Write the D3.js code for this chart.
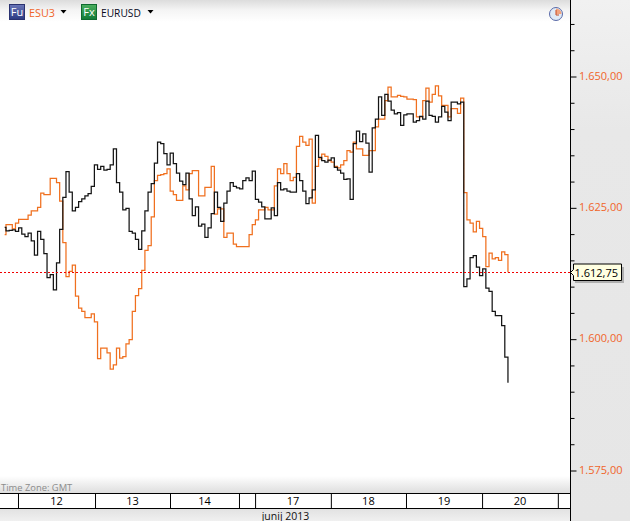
<!DOCTYPE html>
<html><head><meta charset="utf-8">
<script src="https://cdn.jsdelivr.net/npm/d3@7/dist/d3.min.js"></script>
<style>html,body{margin:0;padding:0;background:#fff}svg{display:block}text{font-family:"Open Sans","Noto Sans",sans-serif}</style>
</head><body><div id="c"></div>
<script>
const esu3 = [1619.9,1621.8,1621.8,1621.0,1622.1,1622.8,1622.8,1622.8,1623.6,1624.4,1624.4,1625.1,1627.8,1627.5,1627.5,1630.6,1630.6,1629.8,1626.3,1618.4,1611.9,1612.9,1614.1,1608.2,1605.9,1605.3,1604.1,1604.1,1604.8,1603.3,1596.3,1598.3,1598.3,1597.4,1594.3,1595.1,1598.3,1596.4,1596.7,1599.1,1599.9,1605.3,1608.3,1609.6,1613.1,1616.9,1617.8,1623.3,1630.2,
1631.2,1631.3,1631.5,1632.4,1628.2,1627.5,1626.4,1626.4,1629.2,1628.4,1631.5,1632.1,1632.1,1627.3,1627.3,1628.9,1628.9,1632.9,1623.8,1624.8,1624.8,1619.4,1620.2,1620.2,1618.1,1617.6,1617.6,1617.6,1617.6,1619.9,1621.8,1622.7,1624.6,1624.6,1625.1,1624.6,1624.6,1629.2,1632.4,1631.5,1633.4,1631.5,1630.2,1630.8,1636.7,1638.6,
1637.5,1636.9,1638.1,1625.9,1632.9,1634.3,1635.2,1634.8,1634.0,1633.7,1632.9,1632.6,1633.2,1634.0,1635.9,1635.6,1637.5,1636.2,1636.2,1635.0,1635.0,1635.9,1635.9,1640.4,1641.9,1641.9,1645.4,1648.0,1646.1,1646.1,1646.4,1646.2,1646.1,1645.7,1645.7,1645.6,1642.3,1642.3,1645.4,1647.8,1645.1,1646.6,1648.2,1646.3,1644.5,1644.5,1642.3,1643.9,1643.9,1643.0,1645.9,
1627.9,1622.7,1622.1,1620.4,1622.4,1621.1,1619.5,1613.8,1616.4,1615.3,1615.5,1615.0,1616.6,1616.1,1612.75];
const eurusd = [1621.3,1620.6,1620.7,1620.8,1620.5,1621.2,1620.0,1619.5,1620.2,1618.7,1616.0,1620.5,1619.0,1616.3,1611.7,1612.3,1609.4,1614.5,1620.9,1627.0,1631.9,1628.0,1624.4,1625.1,1626.2,1626.7,1627.3,1627.7,1629.1,1633.2,1632.3,1632.9,1632.2,1632.3,1633.2,1636.2,1629.8,1628.0,1624.6,1624.9,1620.5,1620.2,1619.0,1617.1,1620.6,1624.4,1628.0,
1629.6,1633.5,1637.5,1637.2,1635.3,1633.2,1635.4,1633.4,1631.6,1630.1,1629.4,1631.6,1626.7,1623.5,1625.2,1621.5,1621.9,1619.4,1621.2,1623.9,1628.0,1625.1,1622.4,1625.9,1628.2,1629.8,1629.1,1628.8,1628.6,1630.2,1630.7,1630.2,1632.0,1626.6,1626.1,1625.2,1622.9,1622.9,1625.0,1623.5,1629.8,1628.4,1628.6,1628.2,1628.0,1628.0,1631.5,1630.2,1628.2,1625.8,
1626.9,1628.4,1638.8,1634.6,1634.0,1633.7,1634.1,1634.5,1632.7,1632.2,1631.6,1630.4,1630.5,1626.6,1637.2,1639.6,1637.6,1639.1,1637.3,1631.8,1640.2,1641.9,1646.1,1642.6,1646.6,1645.3,1643.6,1642.9,1643.1,1640.7,1642.7,1642.9,1642.9,1641.3,1641.6,1642.4,1641.9,1645.3,1642.6,1642.4,1641.3,1642.3,1644.3,1643.2,1641.6,1645.1,1645.1,1644.8,1645.1,
1610.0,1611.5,1615.5,1615.9,1613.7,1612.1,1613.4,1609.7,1609.1,1605.3,1604.5,1604.5,1602.6,1596.6,1591.7];
const sessionHours = [4.8,29.2,52.95,74.8,79.9,103.9,127.7,151.8,175.8];
const sessionLabels = ["12","13","14","","17","18","19","20"];
const priceTicks = d3.range(1575,1661,5);
const labelledTicks = [1575,1600,1625,1650];
const lastPrice = 1612.75;
const monthLabel = "junij 2013";
const timeZone = "Time Zone: GMT";

const W=630,H=521,axisX=570.5,axisTop=493.5,axisBot=508.5;
const x=d3.scaleLinear().domain([0,160]).range([2.84,507.96]);
const y=d3.scaleLinear().domain([1575,1650]).range([470.5,76.5]);
const loc=d3.formatLocale({decimal:",",thousands:".",grouping:[3],currency:["",""]});
const fmt=loc.format(",.2f");

const svg=d3.select("#c").append("svg").attr("width",W).attr("height",H);
const defs=svg.append("defs");
function grad(id,stops){const g=defs.append("linearGradient").attr("id",id).attr("x1",0).attr("x2",0).attr("y1",0).attr("y2",1);
 stops.forEach(s=>g.append("stop").attr("offset",s[0]).attr("stop-color",s[1]));}
grad("top",[[0,"#dcdcdc"],[.45,"#f4f4f4"],[1,"#ffffff"]]);
grad("low",[[0,"#ffffff"],[1,"#dedede"]]);
grad("foot",[[0,"#e2e2e2"],[1,"#f0f0f0"]]);
grad("panel",[[0,"#f1f1f1"],[.25,"#e8e8e8"],[1,"#e6e6e6"]]);
grad("fu",[[0,"#6a76b8"],[1,"#2c3a82"]]);
grad("fx",[[0,"#4cb060"],[1,"#107a38"]]);

svg.append("rect").attr("width",570).attr("height",22).attr("fill","url(#top)");
svg.append("rect").attr("y",476).attr("width",570).attr("height",17).attr("fill","url(#low)");
svg.append("rect").attr("y",509).attr("width",570).attr("height",12).attr("fill","url(#foot)");
svg.append("rect").attr("x",571).attr("width",59).attr("height",H).attr("fill","url(#panel)");

// series
const line=d3.line().x((d,i)=>x(i===0?0.58:i)).y(d=>y(d)).curve(d3.curveStepAfter);
svg.append("path").datum(esu3).attr("d",line).attr("fill","none").attr("stroke","#f0701f").attr("stroke-width",1.25);
svg.append("path").datum(eurusd).attr("d",line).attr("fill","none").attr("stroke","#141414").attr("stroke-width",1.25);

// last price line
const ty=Math.floor(y(lastPrice))+.5;
svg.append("line").attr("x1",0).attr("x2",axisX).attr("y1",ty).attr("y2",ty)
 .attr("stroke","#f00000").attr("stroke-width",1).attr("stroke-dasharray","2,2");

// price axis
const ya=d3.axisRight(y).tickValues(priceTicks).tickSize(4).tickFormat(d=>labelledTicks.includes(d)?fmt(d):"");
const gy=svg.append("g").attr("transform",`translate(${axisX},0)`).call(ya);
gy.select(".domain").remove();
gy.selectAll(".tick line").attr("stroke","#000").attr("x2",d=>labelledTicks.includes(d)?6:4);
gy.selectAll(".tick text").attr("x",8.5).attr("y",-1).attr("dy","0.32em").attr("fill","#f0652a").attr("font-size",11).style("font-family",'"Open Sans",sans-serif');
svg.append("line").attr("x1",axisX).attr("x2",axisX).attr("y1",0).attr("y2",H).attr("stroke","#000");

// time axis
svg.append("rect").attr("y",axisTop).attr("width",570).attr("height",axisBot-axisTop).attr("fill","#fff");
[axisTop,axisBot].forEach(v=>svg.append("line").attr("x1",0).attr("x2",axisX).attr("y1",v).attr("y2",v).attr("stroke","#000"));
const xa=d3.axisBottom(x).tickValues(sessionHours).tickSize(axisBot-axisTop).tickFormat("");
const gx=svg.append("g").attr("transform",`translate(0,${axisTop})`).call(xa);
gx.select(".domain").remove();gx.selectAll(".tick line").attr("stroke","#000");
svg.append("g").selectAll("text").data(sessionLabels).join("text")
 .attr("x",(d,i)=>(x(sessionHours[i])+x(sessionHours[i+1]))/2).attr("y",505).attr("text-anchor","middle")
 .attr("font-size",11).attr("fill","#000").text(d=>d);
svg.append("text").attr("x",285.5).attr("y",519.5).attr("text-anchor","middle").attr("font-size",10.5).attr("fill","#111").text(monthLabel);
svg.append("text").attr("x",1).attr("y",491).attr("font-size",9.4).attr("fill","#8c8c8c").text(timeZone);

// legend
function badge(bx,fill,stroke,t){
 svg.append("rect").attr("x",bx+.5).attr("y",4.5).attr("width",15).attr("height",15).attr("fill",fill).attr("stroke",stroke);
 svg.append("text").attr("x",bx+8).attr("y",16).attr("text-anchor","middle").attr("font-size",11).attr("fill","#fff").text(t);
}
badge(9,"url(#fu)","#2a3270","Fu");
badge(81,"url(#fx)","#0f6a30","Fx");
svg.append("text").attr("x",29).attr("y",17).attr("font-size",10.8).attr("fill","#f0652a").text("ESU3");
svg.append("text").attr("x",101).attr("y",17).attr("font-size",10.2).attr("fill","#0a0a1e").text("EURUSD");
[60.5,147.5].forEach(t=>svg.append("path").attr("d",`M${t},10h6l-3,3.5z`).attr("fill","#000"));

// clock
const ck=svg.append("g").attr("transform","translate(556,14)");
ck.append("circle").attr("r",6.5).attr("fill","#dfeaf6").attr("stroke","#5a6aa8").attr("stroke-width",1);
ck.append("path").attr("d","M0,0V-5.5A5.5,5.5 0 0 1 5.5,0Z").attr("fill","#f2a27c");
ck.append("path").attr("d","M0,-4V1H3").attr("fill","none").attr("stroke","#c84a20").attr("stroke-width",1);

// last price tooltip
svg.append("rect").attr("x",575).attr("y",ty-5.5).attr("width",49).attr("height",16).attr("fill","#999").attr("opacity",.7);
svg.append("path").attr("d",`M570.5,${ty}l3,-3v-5.5h48v16.5h-48v-5z`).attr("fill","#ffffe1").attr("stroke","#000");
svg.append("text").attr("x",574.5).attr("y",ty+4).attr("font-size",11).attr("fill","#000").text(fmt(lastPrice));
</script></body></html>
